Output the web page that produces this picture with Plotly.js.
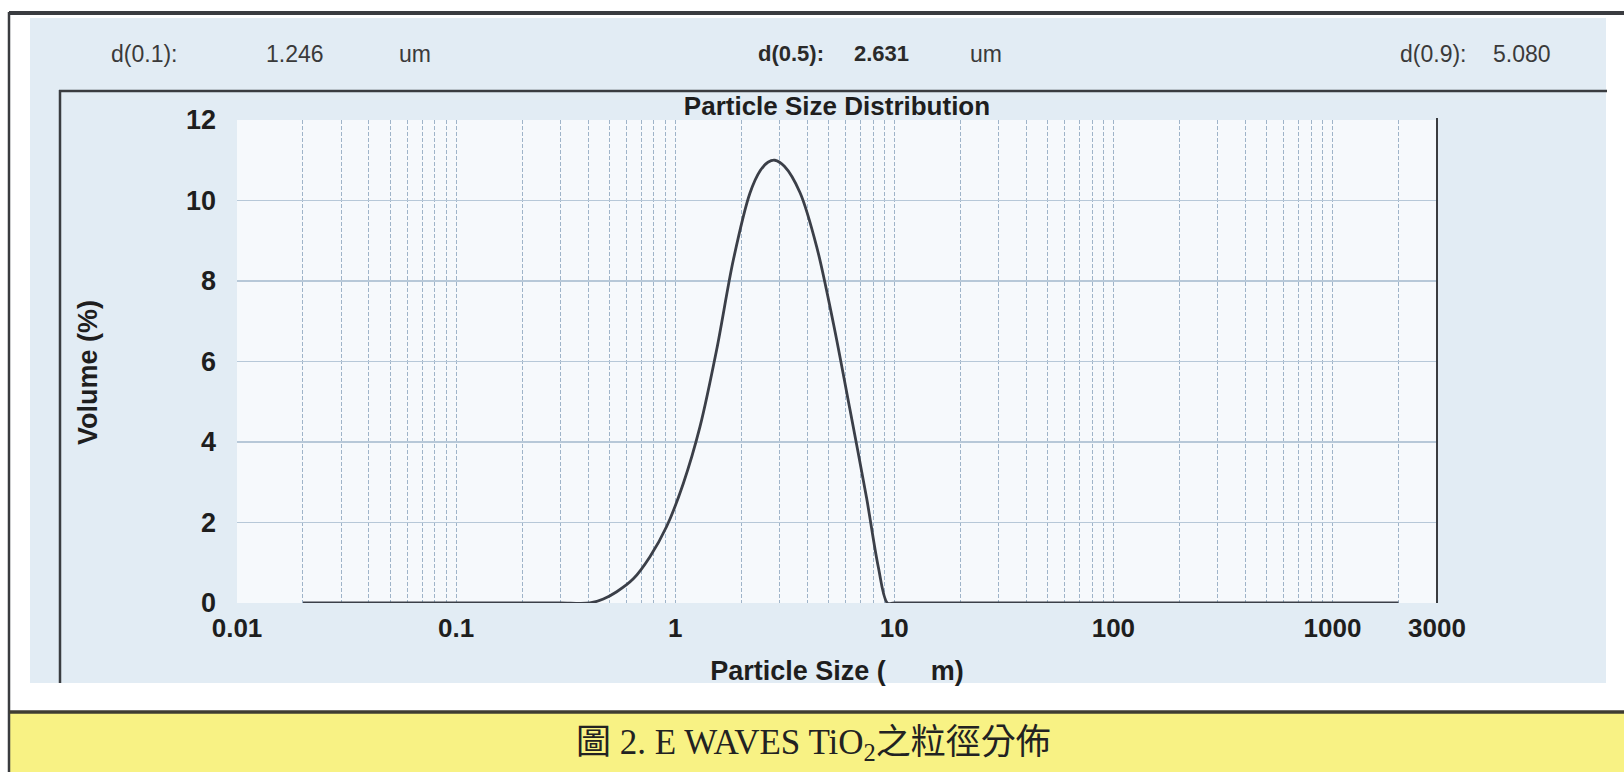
<!DOCTYPE html>
<html>
<head>
<meta charset="utf-8">
<script src="https://cdn.plot.ly/plotly-3.0.1.min.js"></script>
<style>
  html, body { margin: 0; padding: 0; background: #ffffff; }
  #chart { width: 1624px; height: 772px; }
</style>
</head>
<body>
<div id="chart"></div>
<script>
// ---- data ----
const particleSize = [0.02, 0.05, 0.1, 0.2, 0.3, 0.408, 0.47, 0.541, 0.644, 0.767, 0.914, 1.089, 1.298, 1.546, 1.842, 2.193, 2.45, 2.65, 2.85, 3.15, 3.711, 4.425, 5.272, 6.28, 7.48, 8.45, 9.3, 10, 20, 50, 100, 200, 500, 1000, 2000];
const volumePct    = [0,    0,    0,   0,   0,   0,     0.1,  0.28,  0.6,   1.15,  1.90,  2.97,  4.38,  6.29,  8.52,  10.18, 10.75, 10.95, 11.0, 10.85, 10.2,  8.85,  6.95,  4.8,  2.6,  0.9,  0,    0,  0,  0,  0,   0,   0,   0,    0];

const xTickVals  = [0.01, 0.1, 1, 10, 100, 1000, 3000];
const xTickText  = ['0.01', '0.1', '1', '10', '100', '1000', '3000'];
const yTickVals  = [0, 2, 4, 6, 8, 10, 12];

const statLabels = ['d(0.1):', 'd(0.5):', 'd(0.9):'];
const statValues = ['1.246', '2.631', '5.080'];
const statUnits  = ['um', 'um', ''];

const chartTitle = 'Particle Size Distribution';
const xTitle = 'Particle Size (\u00a0\u00a0\u00a0\u00a0\u00a0\u00a0m)';
const yTitle = 'Volume (%)';
const caption = '圖 2. E WAVES TiO<sub>2</sub>之粒徑分佈';

// ---- layout geometry (pixels) ----
const FIG_W = 1624, FIG_H = 772;
const L = 237, R = 1437, T = 120, B = 603;
const px = x => (x - L) / (R - L);
const py = y => (B - y) / (B - T);

// minor gridline positions for the log axis (2..9 per decade)
const minorVals = [];
for (let e = -2; e <= 3; e++) {
  for (let m = 2; m <= 9; m++) {
    const v = m * Math.pow(10, e);
    if (v < 3000) minorVals.push(v);
  }
}

const dark = '#3a3c40';
function rect(x0, y0, x1, y1, color) {
  return {type: 'rect', xref: 'paper', yref: 'paper', layer: 'below',
          x0: px(x0), x1: px(x1), y0: py(y1), y1: py(y0),
          fillcolor: color, line: {width: 0}};
}
function seg(x0, y0, x1, y1, w, color) {
  return {type: 'line', xref: 'paper', yref: 'paper', layer: 'above',
          x0: px(x0), x1: px(x1), y0: py(y0), y1: py(y1),
          line: {color: color || dark, width: w}};
}

const shapes = [
  rect(30, 18, 1606, 683, '#e2ecf4'),
  rect(L, T, R, B, '#f6f9fc'),
  rect(10, 713, FIG_W, FIG_H, '#f8f284'),
  seg(9, 13, FIG_W, 13, 4),
  seg(9, 12, 9, FIG_H, 2.5),
  seg(59, 91, 1607, 91, 2.5),
  seg(60, 90, 60, 683, 2.5),
  seg(9, 712, FIG_W, 712, 3.5, '#3f3d32'),
  seg(R, 118, R, B, 2)
];

const SANS = 'Liberation Sans, Arial, sans-serif';
const hdrFont = {family: SANS, size: 23, color: '#3a3a3a'};
const hdrBold = {family: SANS, size: 22, color: '#2a2a2a', weight: 'bold'};
const hdrX = [[109, 264, 397], [756, 852, 968], [1398, 1491, null]];
const annotations = [];
statLabels.forEach((lab, i) => {
  const f = i === 1 ? hdrBold : hdrFont;
  annotations.push({text: lab, x: px(hdrX[i][0]), y: py(54), xref: 'paper', yref: 'paper',
                    xanchor: 'left', yanchor: 'middle', showarrow: false, font: f});
  annotations.push({text: statValues[i], x: px(hdrX[i][1]), y: py(54), xref: 'paper', yref: 'paper',
                    xanchor: 'left', yanchor: 'middle', showarrow: false, font: f});
  if (statUnits[i]) {
    annotations.push({text: statUnits[i], x: px(hdrX[i][2]), y: py(54), xref: 'paper', yref: 'paper',
                      xanchor: 'left', yanchor: 'middle', showarrow: false, font: hdrFont});
  }
});
// y-axis title placed where the reference shows it
annotations.push({text: yTitle, x: px(88), y: py(373), xref: 'paper', yref: 'paper',
                  xanchor: 'center', yanchor: 'middle', textangle: -90, showarrow: false,
                  font: {family: SANS, size: 27, color: '#1e1e1e', weight: 'bold'}});
annotations.push({text: caption, x: px(813), y: py(744), xref: 'paper', yref: 'paper',
                  xanchor: 'center', yanchor: 'middle', showarrow: false,
                  font: {family: 'Liberation Serif, "Noto Sans CJK TC", serif', size: 35, color: '#222222'}});

const trace = {
  type: 'scatter', mode: 'lines',
  x: particleSize, y: volumePct,
  line: {color: '#3b3f48', width: 2.8, shape: 'spline', smoothing: 0.9},
  hoverinfo: 'x+y'
};

const gridStyle = {gridcolor: '#9fb4c9', gridwidth: 1, griddash: '4px,2px'};

const layout = {
  width: FIG_W, height: FIG_H,
  margin: {l: L, r: FIG_W - R, t: T, b: FIG_H - B, pad: 0},
  paper_bgcolor: '#ffffff',
  plot_bgcolor: 'rgba(0,0,0,0)',
  showlegend: false,
  title: {text: chartTitle, x: px(837), xref: 'paper', xanchor: 'center',
          y: 1 - 106 / FIG_H, yref: 'container', yanchor: 'middle',
          font: {family: SANS, size: 26, color: '#1e1e1e', weight: 'bold'}},
  xaxis: Object.assign({
    type: 'log', range: [Math.log10(0.01), Math.log10(3000)],
    tickmode: 'array', tickvals: xTickVals, ticktext: xTickText,
    ticks: '', ticklabelstandoff: 7,
    tickfont: {family: SANS, size: 26, color: '#1e1e1e', weight: 'bold'},
    showgrid: true,
    minor: Object.assign({tickmode: 'array', tickvals: minorVals, showgrid: true, ticks: ''}, gridStyle),
    zeroline: false, showline: false,
    title: {text: xTitle, standoff: 19,
            font: {family: SANS, size: 27, color: '#1e1e1e', weight: 'bold'}}
  }, gridStyle),
  yaxis: {
    range: [0, 12], tickmode: 'array', tickvals: yTickVals,
    ticks: '', ticklabelstandoff: 20,
    tickfont: {family: SANS, size: 27, color: '#1e1e1e', weight: 'bold'},
    showgrid: true, gridcolor: '#b7c8d8', gridwidth: 1.2,
    zeroline: false, showline: false
  },
  shapes: shapes,
  annotations: annotations
};

Plotly.newPlot('chart', [trace], layout, {staticPlot: true, displayModeBar: false});
</script>
</body>
</html>
